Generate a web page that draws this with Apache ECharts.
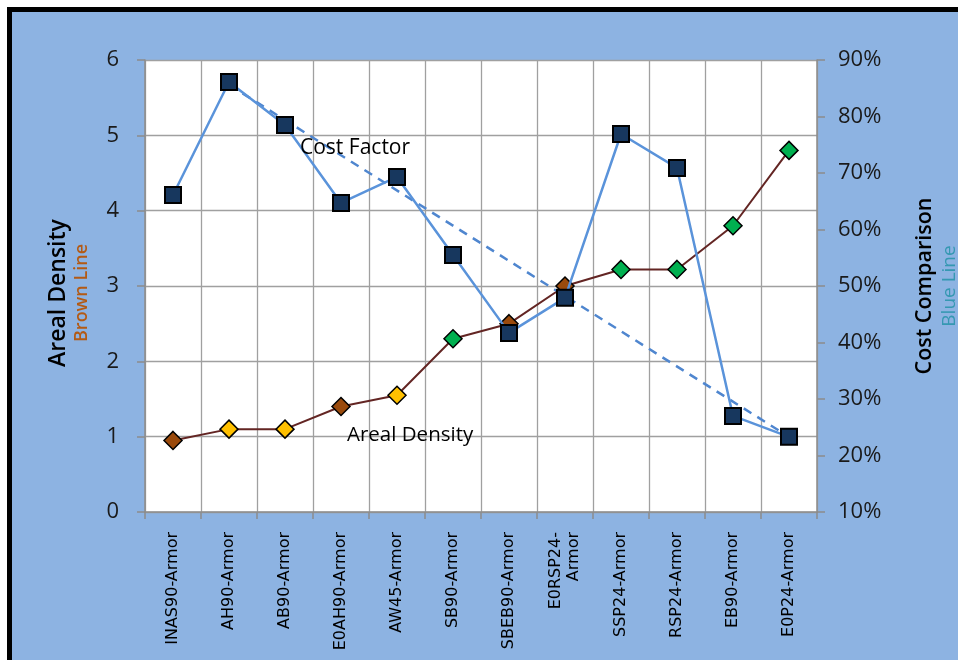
<!DOCTYPE html>
<html>
<head>
<meta charset="utf-8">
<script src="https://cdn.jsdelivr.net/npm/echarts@6/dist/echarts.min.js"></script>
<style>
html,body{margin:0;padding:0;background:#fff;}
#chart{width:958px;height:660px;}
</style>
</head>
<body>
<div id="chart"></div>
<script>
var categories = ['INAS90-Armor','AH90-Armor','AB90-Armor','E0AH90-Armor','AW45-Armor','SB90-Armor','SBEB90-Armor','E0RSP24-\nArmor','SSP24-Armor','RSP24-Armor','EB90-Armor','E0P24-Armor'];
var arealDensity = [0.95,1.1,1.1,1.4,1.55,2.3,2.5,3.0,3.22,3.22,3.8,4.8];
var arealGroup = ['brown','yellow','yellow','brown','yellow','green','brown','brown','green','green','green','green'];
var costPct = [66.1,86.1,78.5,64.7,69.3,55.5,41.7,47.9,76.9,70.9,27.0,23.3];
var costTrend = [null,85.6,null,null,null,null,null,null,null,null,null,23.3];
var leftTicks = [0,6,1];
var rightTicks = [10,90,10];

var groupColor = {brown:'#9A4A0C', yellow:'#FFC000', green:'#00B050'};
var chart = echarts.init(document.getElementById('chart'));
var F = '"Open Sans", "Liberation Sans", sans-serif';

chart.setOption({
  backgroundColor:'#ffffff',
  animation:false,
  graphic:[
    {type:'rect', z:-20, shape:{x:7,y:7,width:960,height:660}, style:{fill:'#000000'}},
    {type:'rect', z:-19, shape:{x:12,y:12,width:960,height:660}, style:{fill:'#8DB3E2'}},
    {type:'text', z:10, x:58, y:293, rotation:Math.PI/2, style:{text:'Areal Density', fill:'#000', font:'600 23px '+F, textAlign:'center', textVerticalAlign:'middle'}},
    {type:'text', z:10, x:82, y:293, rotation:Math.PI/2, style:{text:'Brown Line', fill:'#B35A14', font:'600 18px '+F, textAlign:'center', textVerticalAlign:'middle'}},
    {type:'text', z:10, x:925, y:286, rotation:Math.PI/2, style:{text:'Cost Comparison', fill:'#000', font:'600 21.5px '+F, textAlign:'center', textVerticalAlign:'middle'}},
    {type:'text', z:10, x:950, y:286, rotation:Math.PI/2, style:{text:'Blue Line', fill:'#3598B2', font:'500 19px '+F, textAlign:'center', textVerticalAlign:'middle'}},
    {type:'text', z:10, x:300, y:148, style:{text:'Cost Factor', fill:'#000', font:'21px '+F, textVerticalAlign:'middle'}},
    {type:'text', z:10, x:347, y:435, style:{text:'Areal Density', fill:'#000', font:'20.5px '+F, textVerticalAlign:'middle'}}
  ],
  grid:{left:145, top:60, width:672, height:452, show:true, backgroundColor:'#ffffff', borderWidth:0},
  xAxis:{
    type:'category', data:categories, boundaryGap:true,
    axisLine:{show:true, lineStyle:{color:'#8C8C8C', width:1.5}},
    axisTick:{show:true, alignWithLabel:false, interval:0, length:7, lineStyle:{color:'#8C8C8C', width:1.5}},
    splitLine:{show:true, interval:0, lineStyle:{color:'#A0A0A0', width:1.3}},
    axisLabel:{interval:0, rotate:90, margin:20, color:'#000', fontFamily:'"DejaVu Sans", sans-serif', fontSize:16, lineHeight:18}
  },
  yAxis:[
    {type:'value', min:leftTicks[0], max:leftTicks[1], interval:leftTicks[2], position:'left',
     axisLine:{show:true, lineStyle:{color:'#8C8C8C', width:1.5}},
     axisTick:{show:true, length:8, lineStyle:{color:'#8C8C8C', width:1.5}},
     splitLine:{show:true, lineStyle:{color:'#A0A0A0', width:1.3}},
     axisLabel:{margin:26, color:'#1a1a1a', fontFamily:F, fontSize:22}},
    {type:'value', min:rightTicks[0], max:rightTicks[1], interval:rightTicks[2], position:'right',
     axisLine:{show:true, lineStyle:{color:'#8C8C8C', width:1.5}},
     axisTick:{show:true, length:8, lineStyle:{color:'#8C8C8C', width:1.5}},
     splitLine:{show:false},
     axisLabel:{margin:21, color:'#1a1a1a', fontFamily:F, fontSize:22, formatter:'{value}%'}}
  ],
  series:[
    {name:'Areal Density', type:'line', yAxisIndex:0, z:3,
     data:arealDensity.map(function(v,i){return {value:v, itemStyle:{color:groupColor[arealGroup[i]]}};}),
     symbol:'diamond', symbolSize:18,
     lineStyle:{color:'#632523', width:2},
     itemStyle:{borderColor:'#000', borderWidth:1.5}},
    {name:'Cost Trend', type:'line', yAxisIndex:1, z:4, connectNulls:true,
     data:costTrend, showSymbol:false, symbol:'none',
     lineStyle:{color:'#4F86CF', width:2.5, type:[9,7]}},
    {name:'Cost Factor', type:'line', yAxisIndex:1, z:5,
     data:costPct, symbol:'rect', symbolSize:16,
     lineStyle:{color:'#5A93DA', width:2.5},
     itemStyle:{color:'#17375E', borderColor:'#000', borderWidth:2}}
  ]
});
</script>
</body>
</html>
